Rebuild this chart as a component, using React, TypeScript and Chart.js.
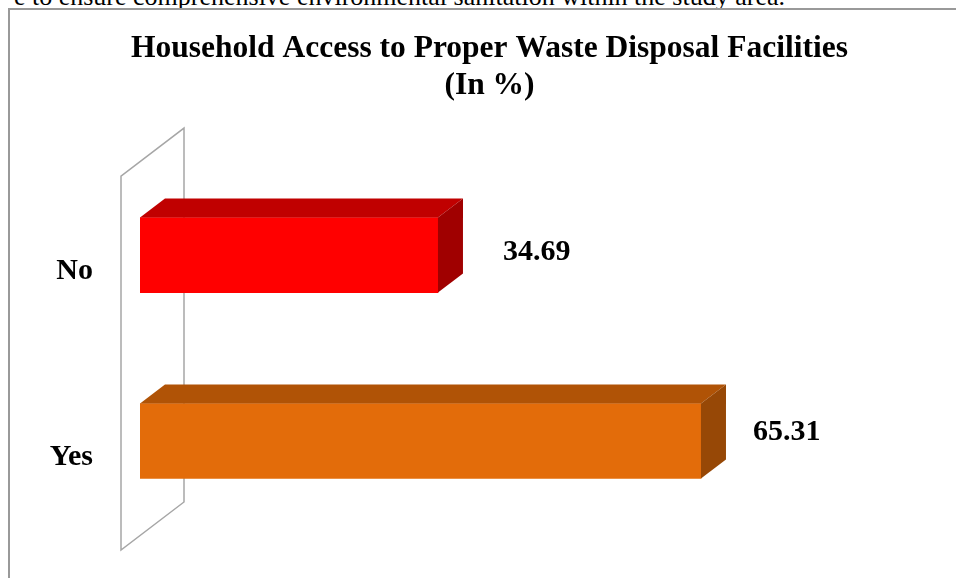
import React, { useEffect, useRef } from "react";
import { Chart, registerables } from "chart.js";

Chart.register(...registerables);

const categories = ["No", "Yes"];
const values = [34.69, 65.31];
const valueLabels = ["34.69", "65.31"];
const frontColors = ["#FF0000", "#E36C0A"];
const topColors = ["#C00000", "#B05306"];
const sideColors = ["#A00000", "#974806"];
const titleLines = ["Household Access to Proper Waste Disposal Facilities", "(In %)"];
const noteText = "e to ensure comprehensive environmental sanitation within the study area.";

const FONT = "'Liberation Serif', 'Times New Roman', Times, serif";
const DEPTH_X = 25;
const DEPTH_Y = -19;
const LABEL_DX = [65, 52];
const LABEL_DY = [4.5, -1];

const threeDPlugin = {
  id: "threeD",
  beforeDatasetsDraw(chart: any) {
    const { ctx, chartArea } = chart;
    const fx = chartArea.left - 19;
    const fTop = chartArea.top + 14;
    const fBot = chartArea.bottom + 16;
    const bx = fx + 63;
    const dy = -48;
    ctx.save();
    ctx.strokeStyle = "#a6a6a6";
    ctx.lineWidth = 1.5;
    ctx.beginPath();
    ctx.moveTo(fx, fBot);
    ctx.lineTo(fx, fTop);
    ctx.lineTo(bx, fTop + dy);
    ctx.lineTo(bx, fBot + dy);
    ctx.closePath();
    ctx.stroke();
    ctx.restore();
  },
  afterDatasetsDraw(chart: any) {
    const { ctx } = chart;
    const meta = chart.getDatasetMeta(0);
    meta.data.forEach((bar: any, i: number) => {
      const p = bar.getProps(["x", "y", "base", "height"], true);
      const top = p.y - p.height / 2;
      const bot = p.y + p.height / 2;
      const x0 = p.base;
      const x1 = p.x;
      ctx.save();
      ctx.fillStyle = topColors[i];
      ctx.beginPath();
      ctx.moveTo(x0, top);
      ctx.lineTo(x0 + DEPTH_X, top + DEPTH_Y);
      ctx.lineTo(x1 + DEPTH_X, top + DEPTH_Y);
      ctx.lineTo(x1, top);
      ctx.closePath();
      ctx.fill();
      ctx.fillStyle = sideColors[i];
      ctx.beginPath();
      ctx.moveTo(x1, top);
      ctx.lineTo(x1 + DEPTH_X, top + DEPTH_Y);
      ctx.lineTo(x1 + DEPTH_X, bot + DEPTH_Y);
      ctx.lineTo(x1, bot);
      ctx.closePath();
      ctx.fill();
      ctx.fillStyle = "#000";
      ctx.font = `bold 30px ${FONT}`;
      ctx.textAlign = "left";
      ctx.textBaseline = "alphabetic";
      ctx.fillText(valueLabels[i], x1 + LABEL_DX[i], p.y + LABEL_DY[i]);
      ctx.restore();
    });
  },
};

export default function App() {
  const canvasRef = useRef<HTMLCanvasElement | null>(null);

  useEffect(() => {
    if (!canvasRef.current) return;
    const chart = new Chart(canvasRef.current, {
      type: "bar",
      data: {
        labels: categories,
        datasets: [
          {
            data: values,
            backgroundColor: frontColors,
            borderWidth: 0,
            barThickness: 75,
          },
        ],
      },
      options: {
        indexAxis: "y",
        responsive: true,
        maintainAspectRatio: false,
        animation: false,
        devicePixelRatio: 1,
        layout: { padding: { left: 13, right: 0, top: 0, bottom: 44 } },
        plugins: {
          legend: { display: false },
          tooltip: { enabled: false },
          title: {
            display: true,
            text: titleLines,
            color: "#000",
            font: { family: FONT, size: 31.5, weight: "bold", lineHeight: 1.16 },
            padding: { top: 21, bottom: 58 },
          },
        },
        scales: {
          x: { display: false, min: 0, max: 95 },
          y: {
            grid: { display: false, drawTicks: false },
            border: { display: false },
            ticks: {
              color: "#000",
              font: { family: FONT, size: 30, weight: "bold" },
              padding: 47,
              labelOffset: 16.5,
            },
            afterFit: (scale: any) => {
              scale.width = 117;
              scale.paddingTop = 0;
              scale.paddingBottom = 0;
            },
          },
        },
      },
      plugins: [threeDPlugin],
    } as any);
    return () => chart.destroy();
  }, []);

  return (
    <div
      style={{
        position: "fixed",
        left: 0,
        top: 0,
        width: 956,
        height: 578,
        overflow: "hidden",
        background: "#fff",
      }}
    >
      <div
        style={{
          position: "absolute",
          right: 171,
          top: -16,
          whiteSpace: "nowrap",
          fontFamily: FONT,
          fontSize: 26,
          lineHeight: "26px",
          color: "#000",
        }}
      >
        {noteText}
      </div>
      <div
        style={{
          position: "absolute",
          left: 8,
          top: 8,
          width: 960,
          height: 580,
          borderLeft: "2px solid #999",
          borderTop: "2px solid #999",
        }}
      >
        <div style={{ position: "absolute", left: 0, top: 0, width: 946, height: 568 }}>
          <canvas ref={canvasRef} />
        </div>
      </div>
    </div>
  );
}
